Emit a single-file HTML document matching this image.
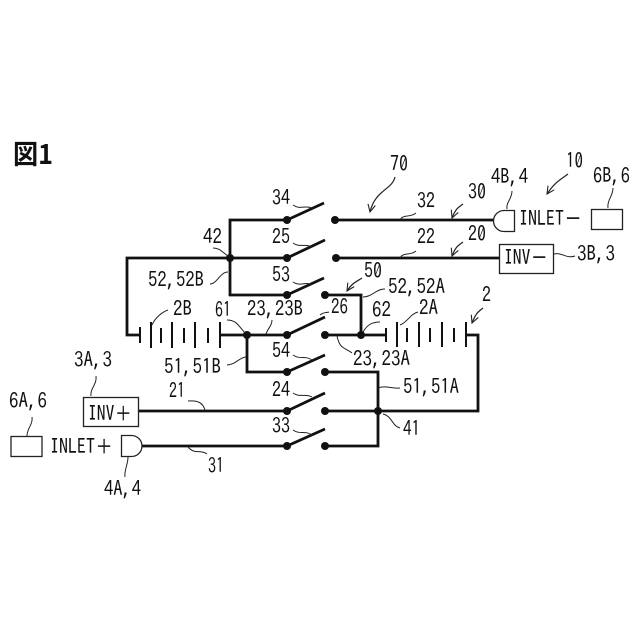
<!DOCTYPE html>
<html><head><meta charset="utf-8"><style>
html,body{margin:0;padding:0;background:#fff}
svg{display:block}
text{font-family:"IPAGothic","Liberation Sans",sans-serif;font-size:21px;fill:#111}
.w{stroke:#111;stroke-width:2.8;fill:none;stroke-linejoin:miter}
.b{stroke:#111;stroke-width:2;fill:none}
.t{stroke:#222;stroke-width:1.3;fill:#fff}
.l{stroke:#222;stroke-width:1;fill:none}
.a{stroke:#222;stroke-width:1.2;fill:none}
</style></head><body>
<svg width="640" height="640" viewBox="0 0 640 640" xmlns="http://www.w3.org/2000/svg">
<defs><marker id="h" viewBox="-10 -6 12 12" markerWidth="10" markerHeight="10" markerUnits="userSpaceOnUse" refX="0" refY="0" orient="auto"><path d="M-9,-4.5 L0,0 L-9,4.5" fill="none" stroke="#222" stroke-width="1.3"/></marker></defs>
<text x="13" y="164" style="font-family:'Noto Sans CJK JP','Liberation Sans',sans-serif;font-size:27px;font-weight:700" textLength="40" lengthAdjust="spacingAndGlyphs">図1</text>

<!-- wires -->
<path class="w" d="M287,220H230V295H287M287,258H127V335H140M220,335H287M247,335V372H287M138,411H287M142,446H287"/>
<path class="w" d="M335,220H494M336,258H500M325,295H361V335M325,335H386M466,335H478V411H325M325,372H378V446H325"/>
<!-- blades -->
<path class="w" d="M287,220L324,203M287,258L325,240M287,295L324,278M287,335L325,317M287,372L325,355M287,411L325,393M287,446L325,429"/>
<!-- battery B -->
<path class="b" d="M140,327V343M151,322V348M161,328V343M172,322V348M184,328V343M195,322V348M208,328V343M220,322V348"/>
<!-- battery A -->
<path class="b" d="M386,328V342M397,322V347M407,328V342M419,322V347M430,328V342M442,322V347M454,328V342M466,322V347"/>
<!-- dots -->
<g fill="#111">
<circle cx="287" cy="220" r="4"/><circle cx="287" cy="258" r="4"/><circle cx="287" cy="295" r="4"/><circle cx="287" cy="335" r="4"/><circle cx="287" cy="372" r="4"/><circle cx="287" cy="411" r="4"/><circle cx="287" cy="446" r="4"/>
<circle cx="335" cy="220" r="4"/><circle cx="336" cy="258" r="4"/><circle cx="325" cy="295" r="4"/><circle cx="325" cy="335" r="4"/><circle cx="325" cy="372" r="4"/><circle cx="325" cy="411" r="4"/><circle cx="325" cy="446" r="4"/>
<circle cx="230" cy="258" r="4"/><circle cx="247" cy="335" r="4"/><circle cx="361" cy="335" r="4"/><circle cx="378" cy="411" r="4"/>
</g>
<!-- boxes -->
<rect class="t" x="499.5" y="244.5" width="54" height="29"/>
<rect class="t" x="591.5" y="209.5" width="31" height="20"/>
<rect class="t" x="83.5" y="397.5" width="55" height="29"/>
<rect class="t" x="11" y="436.5" width="31" height="20"/>
<path class="t" d="M514.5,210.5H504A10.5,10.5 0 0 0 504,231.5H514.5Z"/>
<path class="t" d="M121.5,435.5H131.5A10.5,10.5 0 0 1 131.5,456.5H121.5Z"/>
<!-- leaders -->
<path class="l" d="M293,205C300,210 305,205 312,208M293,243C300,248 305,243 312,247M293,282C300,287 305,281 312,285M293,355C300,360 305,355 312,360M293,393C300,398 305,393 312,397M293,430C300,435 305,430 312,435"/>
<path class="l" d="M213,248C220,248 222,252 228,256M210,284C217,284 220,272 228,272M152,325C155,318 162,312 168,310M227,320C236,320 238,325 245,333M272,320C272,326 268,328 266,334"/>
<path class="l" d="M416,213C410,218 403,214 400,220M416,251C410,256 403,252 400,258M512,191C512,199 506,202 507,209M613,188C613,196 607,200 608,208M554,254C562,252 566,259 575,256"/>
<path class="l" d="M363,297C372,297 376,289 385,289M400,325C408,322 410,314 418,312M363,332C367,325 372,322 380,322M320,315C324,312 326,313 329,312M337,336C340,350 345,347 352,353"/>
<path class="l" d="M378,388C386,385 392,389 400,388M383,414C392,416 392,426 400,428M227,365C235,365 240,357 246,357M96,376C97,385 90,388 91,396M188,401C198,400 203,403 205,410M32,417C33,425 27,428 27,436M188,447C195,455 200,449 207,454M128,457C128,465 124,470 125,477"/>
<!-- arrows -->
<path class="a" marker-end="url(#h)" d="M395,177C392,190 375,190 370,212"/>
<path class="a" marker-end="url(#h)" d="M463,204C458,208 456,208 452,218"/>
<path class="a" marker-end="url(#h)" d="M463,242C458,246 456,246 452,256"/>
<path class="a" marker-end="url(#h)" d="M568,174C560,180 555,182 547,194"/>
<path class="a" marker-end="url(#h)" d="M362,278C356,282 352,283 347,291"/>
<path class="a" marker-end="url(#h)" d="M483,308C478,312 476,313 472,323"/>
<!-- labels -->
<text x="272" y="205" textLength="18" lengthAdjust="spacingAndGlyphs">34</text>
<text x="203" y="244" textLength="19" lengthAdjust="spacingAndGlyphs">42</text>
<text x="272" y="244" textLength="18" lengthAdjust="spacingAndGlyphs">25</text>
<text x="272" y="282" textLength="18" lengthAdjust="spacingAndGlyphs">53</text>
<text x="148" y="287" textLength="56" lengthAdjust="spacingAndGlyphs">52,52B</text>
<text x="173" y="316" textLength="19" lengthAdjust="spacingAndGlyphs">2B</text>
<text x="215" y="317" textLength="16" lengthAdjust="spacingAndGlyphs">61</text>
<text x="247" y="316" textLength="56" lengthAdjust="spacingAndGlyphs">23,23B</text>
<text x="390" y="171" textLength="18" lengthAdjust="spacingAndGlyphs">70</text>
<text x="417" y="208" textLength="18" lengthAdjust="spacingAndGlyphs">32</text>
<text x="468" y="199" textLength="18" lengthAdjust="spacingAndGlyphs">30</text>
<text x="491" y="184" textLength="37" lengthAdjust="spacingAndGlyphs">4B,4</text>
<text x="566" y="168" textLength="17" lengthAdjust="spacingAndGlyphs">10</text>
<text x="593" y="183" textLength="37" lengthAdjust="spacingAndGlyphs">6B,6</text>
<text x="519" y="226" textLength="63" lengthAdjust="spacingAndGlyphs">INLET－</text>
<text x="417" y="244" textLength="18" lengthAdjust="spacingAndGlyphs">22</text>
<text x="468" y="241" textLength="18" lengthAdjust="spacingAndGlyphs">20</text>
<text x="504" y="265" textLength="44" lengthAdjust="spacingAndGlyphs">INV－</text>
<text x="577" y="261" textLength="38" lengthAdjust="spacingAndGlyphs">3B,3</text>
<text x="364" y="278" textLength="18" lengthAdjust="spacingAndGlyphs">50</text>
<text x="388" y="294" textLength="57" lengthAdjust="spacingAndGlyphs">52,52A</text>
<text x="482" y="302" textLength="9" lengthAdjust="spacingAndGlyphs">2</text>
<text x="331" y="314" textLength="17" lengthAdjust="spacingAndGlyphs">26</text>
<text x="372" y="317" textLength="19" lengthAdjust="spacingAndGlyphs">62</text>
<text x="419" y="315" textLength="19" lengthAdjust="spacingAndGlyphs">2A</text>
<text x="353" y="366" textLength="57" lengthAdjust="spacingAndGlyphs">23,23A</text>
<text x="403" y="394" textLength="56" lengthAdjust="spacingAndGlyphs">51,51A</text>
<text x="403" y="436" textLength="17" lengthAdjust="spacingAndGlyphs">41</text>
<text x="272" y="358" textLength="18" lengthAdjust="spacingAndGlyphs">54</text>
<text x="164" y="374" textLength="57" lengthAdjust="spacingAndGlyphs">51,51B</text>
<text x="74" y="367" textLength="38" lengthAdjust="spacingAndGlyphs">3A,3</text>
<text x="169" y="398" textLength="16" lengthAdjust="spacingAndGlyphs">21</text>
<text x="272" y="397" textLength="18" lengthAdjust="spacingAndGlyphs">24</text>
<text x="272" y="433" textLength="18" lengthAdjust="spacingAndGlyphs">33</text>
<text x="9" y="408" textLength="38" lengthAdjust="spacingAndGlyphs">6A,6</text>
<text x="88" y="421" textLength="44" lengthAdjust="spacingAndGlyphs">INV＋</text>
<text x="50" y="454" textLength="63" lengthAdjust="spacingAndGlyphs">INLET＋</text>
<text x="208" y="473" textLength="16" lengthAdjust="spacingAndGlyphs">31</text>
<text x="104" y="496" textLength="37" lengthAdjust="spacingAndGlyphs">4A,4</text>
</svg>
</body></html>
